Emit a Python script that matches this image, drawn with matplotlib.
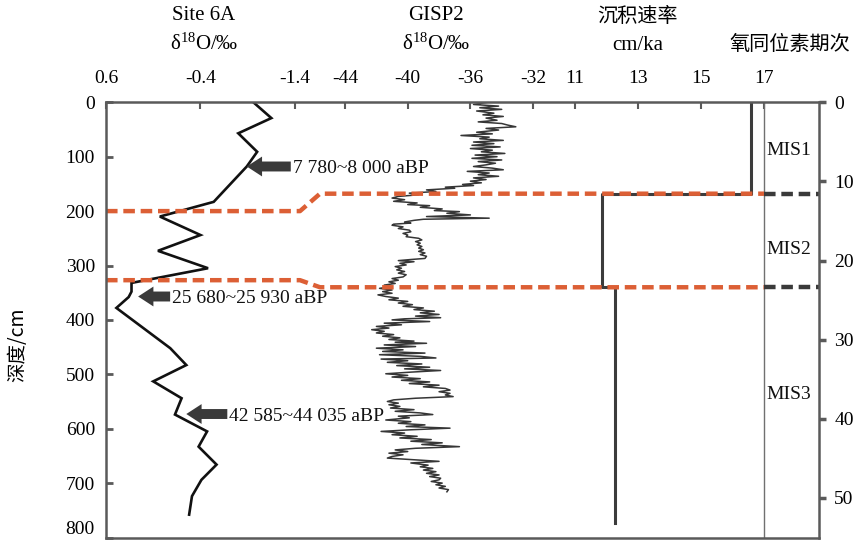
import matplotlib
matplotlib.use("Agg")
import matplotlib.pyplot as plt

plt.rcParams['font.family'] = ['Liberation Serif', 'Noto Sans CJK SC', 'DejaVu Sans']
plt.rcParams['mathtext.default'] = 'regular'

# ---------------- data ----------------
site6a_depth = [0, 29, 57, 91, 118, 183, 210, 244, 273, 305, 332, 348, 358, 378,
                452, 483, 513, 544, 574, 605, 633, 666, 694, 724, 758]
site6a_d18o = [-0.96, -1.15, -0.80, -1.00, -0.89, -0.54, 0.03, -0.40, 0.05, -0.48,
               0.33, 0.33, 0.36, 0.49, -0.08, -0.25, 0.10, -0.20, -0.13, -0.47,
               -0.38, -0.57, -0.41, -0.31, -0.28]

gisp2_depth = [0, 4, 7, 10, 13, 16, 20, 23, 26, 29, 33, 36, 39, 42, 45, 48, 51, 55, 58, 61,
               64, 67, 70, 73, 76, 79, 82, 85, 88, 91, 94, 97, 100, 103, 106, 109, 112, 115,
               118, 121, 124, 127, 130, 133, 136, 139, 142, 145, 148, 151, 153, 156, 158,
               161, 164, 167, 170, 173, 176, 179, 182, 185, 188, 190, 193, 196, 199, 201,
               204, 207, 210, 213, 215, 217, 220, 222, 224, 226, 229, 232, 235, 238, 241,
               244, 247, 250, 253, 256, 259, 262, 265, 268, 271, 274, 277, 280, 283, 287,
               289, 291, 293, 296, 299, 302, 305, 308, 311, 314, 317, 321, 324, 327, 330,
               333, 336, 339, 342, 345, 348, 351, 354, 357, 360, 363, 366, 369, 372, 375,
               378, 381, 384, 387, 390, 393, 396, 398, 400, 403, 406, 409, 412, 415, 418,
               421, 424, 427, 430, 433, 436, 439, 441, 443, 446, 449, 452, 455, 458, 461,
               464, 467, 470, 472, 475, 478, 481, 484, 487, 490, 493, 496, 499, 502, 505,
               508, 511, 514, 517, 520, 523, 526, 529, 532, 535, 538, 541, 544, 547, 550,
               553, 556, 559, 562, 565, 568, 571, 574, 577, 580, 584, 587, 590, 593, 596,
               599, 602, 605, 608, 611, 614, 617, 620, 623, 626, 629, 633, 636, 639, 642,
               645, 648, 651, 654, 657, 660, 663, 667, 670, 673, 676, 679, 682, 685, 688,
               691, 694, 697, 700, 703, 706, 709, 712, 716]
gisp2_d18o = [-34.9, -35.8, -34.2, -35.4, -34.0, -35.6, -34.5, -35.2, -33.9, -35.0, -34.3,
              -35.5, -34.0, -33.6, -33.1, -35.0, -34.2, -35.6, -34.6, -36.6, -34.8, -35.4,
              -33.9, -35.8, -34.5, -35.9, -34.1, -36.0, -34.6, -35.3, -33.8, -35.7, -34.3,
              -35.9, -34.0, -35.5, -34.4, -35.0, -35.8, -34.6, -33.9, -36.2, -34.8, -35.5,
              -34.2, -35.8, -35.0, -36.0, -35.3, -36.5, -35.8, -37.6, -37.0, -38.8, -38.2,
              -39.9, -39.3, -40.6, -41.0, -40.2, -40.9, -39.4, -40.0, -38.6, -39.2, -37.8,
              -38.3, -36.7, -37.5, -36.0, -38.8, -34.8, -39.0, -39.6, -40.2, -39.8, -40.9,
              -41.0, -40.3, -40.6, -39.9, -39.8, -40.3, -40.0, -40.1, -39.3, -39.1, -39.5,
              -39.2, -39.4, -39.1, -39.3, -39.0, -39.3, -38.9, -39.2, -38.8, -38.9, -39.8,
              -40.6, -39.6, -40.5, -40.1, -40.8, -40.4, -40.7, -40.2, -40.6, -40.1, -40.3,
              -41.0, -40.6, -41.2, -40.8, -41.5, -41.1, -41.8, -41.0, -41.6, -41.0, -41.9,
              -41.4, -40.6, -41.2, -40.0, -40.6, -39.7, -40.3, -39.0, -39.6, -38.3, -39.2,
              -38.0, -39.5, -37.9, -40.2, -41.0, -38.6, -41.5, -40.4, -42.0, -41.2, -42.3,
              -41.5, -42.0, -40.9, -41.6, -40.5, -41.2, -39.6, -40.8, -38.8, -41.5, -39.5,
              -42.0, -40.3, -41.6, -38.9, -41.8, -39.2, -38.2, -41.7, -40.0, -41.3, -39.1,
              -40.7, -38.6, -40.2, -37.9, -39.8, -41.4, -40.0, -41.0, -39.2, -40.4, -38.6,
              -39.9, -38.0, -39.0, -37.6, -37.3, -38.0, -37.3, -37.6, -37.1, -39.5, -40.9,
              -41.3, -40.6, -41.2, -40.5, -41.1, -39.6, -40.8, -39.2, -38.4, -40.6, -39.9,
              -41.4, -39.8, -40.6, -38.9, -40.1, -37.3, -39.8, -41.7, -40.2, -41.0, -39.4,
              -40.5, -38.5, -39.8, -37.8, -39.1, -36.7, -39.5, -40.8, -40.0, -41.2, -40.3,
              -41.0, -41.3, -39.6, -38.0, -39.8, -38.7, -39.2, -38.4, -39.0, -38.2, -38.8,
              -38.0, -38.6, -37.9, -38.0, -38.5, -37.8, -38.2, -37.6, -38.0, -37.4, -37.5]

rate_depth = [0, 168, 168, 340, 340, 773]
rate_value = [16.6, 16.6, 11.85, 11.85, 12.27, 12.27]

mis_names = ['MIS1', 'MIS2', 'MIS3']
mis_label_depth = [88, 270, 538]
mis_boundary_site = [200, 327]     # boundary depth in the Site 6A column
mis_boundary_core = [168, 340]     # boundary depth in other columns

age_labels = ['7 780~8 000 aBP', '25 680~25 930 aBP', '42 585~44 035 aBP']
age_depth = [118, 357, 573]
age_arrow_x = [-0.89, 0.26, -0.25]

site_ticks = [0.6, -0.4, -1.4]
gisp_ticks = [-44, -40, -36, -32]
rate_ticks = [11, 13, 15, 17]
depth_ticks = [0, 100, 200, 300, 400, 500, 600, 700, 800]
age_ticks = [0, 10, 20, 30, 40, 50]

# ---------------- layout ----------------
W, H = 859, 544
fig = plt.figure(figsize=(W / 100, H / 100), dpi=100)
top_px, bot_px = 102.3, 537.5
fb = 1 - bot_px / H
fh = (bot_px - top_px) / H

def fx(px):
    return px / W

frame_col = '#5a5a5a'
orange = '#dc5f35'
tick_fs = 14

ax_site = fig.add_axes([fx(106), fb, fx(320 - 106), fh])
ax_gisp = fig.add_axes([fx(320), fb, fx(560 - 320), fh])
ax_rate = fig.add_axes([fx(560), fb, fx(764 - 560), fh])

panels = [(ax_site, (0.6, -1.665), site_ticks, ['0.6', '-0.4', '-1.4']),
          (ax_gisp, (-45.6, -30.28), gisp_ticks, ['-44', '-40', '-36', '-32']),
          (ax_rate, (10.524, 17.0), rate_ticks, ['11', '13', '15', '17'])]
for ax, xl, tk, tl in panels:
    ax.set_xlim(*xl)
    ax.set_ylim(800, 0)
    ax.patch.set_visible(False)
    for s in ax.spines.values():
        s.set_visible(False)
    ax.xaxis.tick_top()
    ax.set_xticks(tk)
    ax.set_xticklabels(tl)
    ax.tick_params(axis='x', direction='in', length=5, width=1.5, color=frame_col,
                   labelsize=tick_fs, pad=11)
    ax.set_yticks([])

ax_site.plot(site6a_d18o, site6a_depth, color='#111111', lw=1.9, solid_joinstyle='miter')
ax_gisp.plot(gisp2_d18o, gisp2_depth, color='#363636', lw=1.1)
ax_rate.plot(rate_value, rate_depth, color='#3c3c3c', lw=2.2)

# arrows with ages
arrow_len = [44, 32, 41]
for lab, d, v, L in zip(age_labels, age_depth, age_arrow_x, arrow_len):
    ax_site.annotate('', xy=(v, d), xytext=(L, 0), textcoords='offset pixels',
                     arrowprops=dict(arrowstyle='simple,head_length=1.0,head_width=1.3,tail_width=0.65',
                                     mutation_scale=11, fc='#3a3a3a', ec='none',
                                     shrinkA=0, shrinkB=0),
                     annotation_clip=False)
    ax_site.annotate(lab, xy=(v, d), xytext=(L + 2, -2), textcoords='offset pixels',
                     ha='left', va='center', fontsize=14, color='#111111',
                     annotation_clip=False)

# frame axes (box, depth axis, dashed boundaries, MIS column)
ax_frame = fig.add_axes([fx(106), fb, fx(819 - 106), fh])
ax_frame.patch.set_visible(False)
ax_frame.set_xlim(0, 1)
ax_frame.set_ylim(800, 0)
ax_frame.set_xticks([])
ax_frame.set_yticks(depth_ticks)
ax_frame.set_yticklabels([str(t) for t in depth_ticks])
ax_frame.tick_params(axis='y', direction='in', length=5, width=2, color=frame_col,
                     labelsize=tick_fs, pad=8)
for s in ax_frame.spines.values():
    s.set_color(frame_col)
    s.set_linewidth(1.8)

x_mis = (764 - 106) / (819 - 106)
x_bend = (300 - 106) / (819 - 106)
x_join = (320 - 106) / (819 - 106)
ax_frame.axvline(x_mis, color='#707070', lw=1.0)
dash = (0, (2.6, 1.3))
for ds, dc in zip(mis_boundary_site, mis_boundary_core):
    ax_frame.plot([0, x_bend, x_join, x_mis], [ds, ds, dc, dc], color=orange, lw=3.2,
                  linestyle=dash)
    ax_frame.plot([x_mis, 1], [dc, dc], color='#3a3a3a', lw=3.2, linestyle=dash)
for name, d in zip(mis_names, mis_label_depth):
    ax_frame.text((x_mis + 1) / 2 - 0.004, d, name, ha='center', va='center',
                  fontsize=14, color='#111111')

ax_age = ax_frame.twinx()
ax_age.set_ylim(55, 0)
ax_age.set_yticks(age_ticks)
ax_age.tick_params(axis='y', direction='out', length=5, width=2.5, color=frame_col,
                   labelsize=tick_fs, pad=6)
for s in ax_age.spines.values():
    s.set_visible(False)

# headers
def ftxt(px, py, s, **kw):
    fig.text(px / W, 1 - py / H, s, ha='center', va='center', **kw)

ftxt(204, 15, 'Site 6A', fontsize=15)
ftxt(204, 44, 'δ$^{18}$O/‰', fontsize=15)
ftxt(436, 15, 'GISP2', fontsize=15)
ftxt(436, 44, 'δ$^{18}$O/‰', fontsize=15)
ftxt(637, 17, '沉积速率', fontsize=14.5, family=['Noto Sans CJK SC'])
ftxt(638, 45, 'cm/ka', fontsize=15)
ftxt(790, 45, '氧同位素期次', fontsize=14.5, family=['Noto Sans CJK SC'])
fig.text(18 / W, 1 - 345 / H, '深度/cm', rotation=90, ha='center', va='center',
         fontsize=14, family=['Noto Sans CJK SC', 'Liberation Serif'])

# keep the bottom depth label fully inside the picture
fig.canvas.draw()
for tick in ax_frame.yaxis.get_major_ticks():
    if tick.label1.get_text() == '800':
        tick.label1.set_verticalalignment('bottom')

fig.savefig('out.png', dpi=100)
